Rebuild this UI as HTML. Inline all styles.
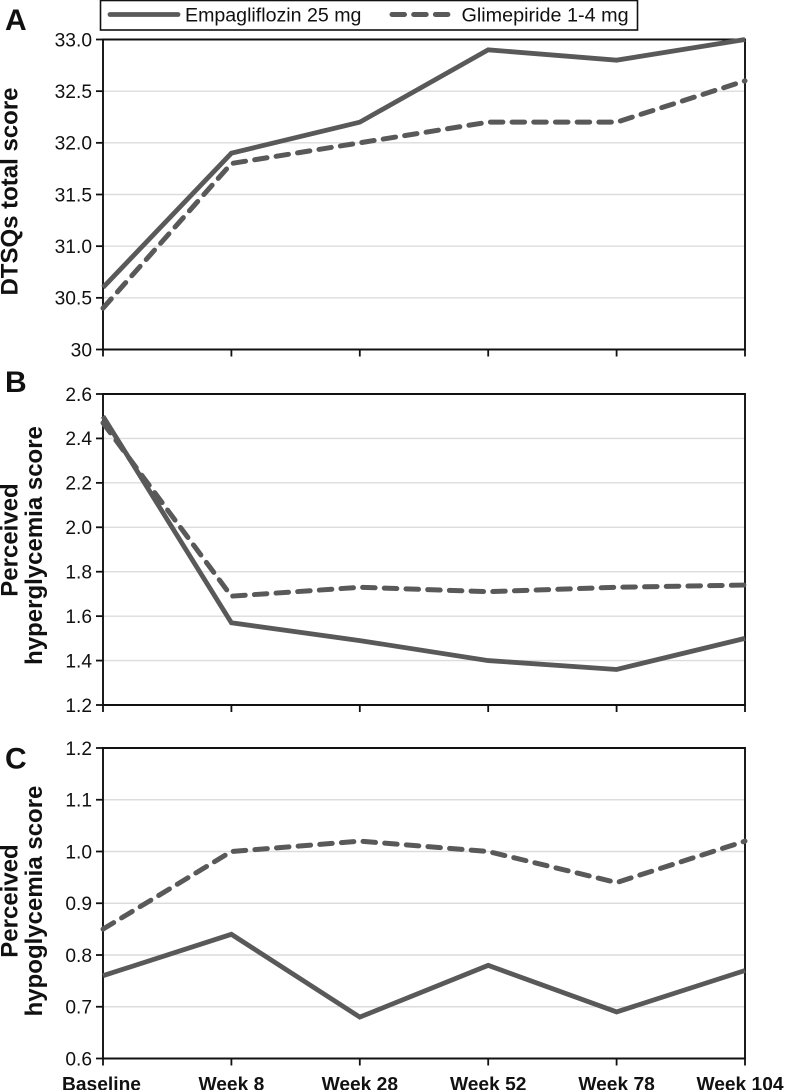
<!DOCTYPE html>
<html>
<head>
<meta charset="utf-8">
<style>
html,body{margin:0;padding:0;background:#fff;}
svg{display:block;font-family:"Liberation Sans",sans-serif;}
</style>
</head>
<body>
<svg id="chart" xmlns="http://www.w3.org/2000/svg" width="786" height="1090" viewBox="0 0 786 1090"></svg>
<script>
const categories = ['Baseline','Week 8','Week 28','Week 52','Week 78','Week 104'];
const seriesNames = ['Empagliflozin 25 mg','Glimepiride 1-4 mg'];

const ticksA = ['30','30.5','31.0','31.5','32.0','32.5','33.0'];
const empagliflozinA = [30.6,31.9,32.2,32.9,32.8,33.0];
const glimepirideA = [30.4,31.8,32.0,32.2,32.2,32.6];

const ticksB = ['1.2','1.4','1.6','1.8','2.0','2.2','2.4','2.6'];
const empagliflozinB = [2.5,1.57,1.49,1.40,1.36,1.50];
const glimepirideB = [2.47,1.69,1.73,1.71,1.73,1.74];

const ticksC = ['0.6','0.7','0.8','0.9','1.0','1.1','1.2'];
const empagliflozinC = [0.76,0.84,0.68,0.78,0.69,0.77];
const glimepirideC = [0.85,1.00,1.02,1.00,0.94,1.02];

const NS = 'http://www.w3.org/2000/svg';
const svg = document.getElementById('chart');
const LEFT = 103, RIGHT = 745;
const DASH = '12.5 9.2';

function mk(tag, attrs, parent, text) {
  const el = document.createElementNS(NS, tag);
  for (const k in attrs) el.setAttribute(k, attrs[k]);
  if (text !== undefined) el.textContent = text;
  (parent || svg).appendChild(el);
  return el;
}
function xPos(i) { return LEFT + (RIGHT - LEFT) * i / (categories.length - 1); }

function panel(key, letter, letterY, top, bottom, ticks, empa, glim, titleLines) {
  const g = mk('g', {});
  
  
  const lo = parseFloat(ticks[0]), hi = parseFloat(ticks[ticks.length - 1]);
  const yPos = v => bottom - (v - lo) / (hi - lo) * (bottom - top);

  ticks.forEach((t, i) => {
    const v = parseFloat(t), y = yPos(v);
    if (i > 0 && i < ticks.length - 1) {
      const grid = mk('line', {x1: LEFT, x2: RIGHT, y1: y, y2: y, stroke: '#dcdcdc', 'stroke-width': 1.4}, g);
      
      
    }
    const tick = mk('line', {x1: LEFT - 7, x2: LEFT, y1: y, y2: y, stroke: '#111', 'stroke-width': 1.8}, g);
    
    
    const label = mk('text', {x: LEFT - 11, y: y + 6.8, 'text-anchor': 'end', 'font-size': 19.2, fill: '#111'}, g, t);
    
    
  });

  const frame = mk('path', {d: `M${LEFT} ${top}H${RIGHT}V${bottom}H${LEFT}Z`, fill: 'none', stroke: '#111', 'stroke-width': 1.9}, g);
  
  

  categories.forEach((c, i) => {
    const tick = mk('line', {x1: xPos(i), x2: xPos(i), y1: bottom, y2: bottom + 7, stroke: '#111', 'stroke-width': 1.8}, g);
    
    
  });

  const pts = arr => arr.map((v, i) => xPos(i) + ',' + yPos(v)).join(' ');
  const l1 = mk('polyline', {points: pts(empa), fill: 'none', stroke: '#595959', 'stroke-width': 4.8, 'stroke-linejoin': 'miter'}, g);
  
  
  const l2 = mk('polyline', {points: pts(glim), fill: 'none', stroke: '#595959', 'stroke-width': 5, 'stroke-dasharray': DASH, 'stroke-linecap': 'round'}, g);
  
  

  const pl = mk('text', {x: 5, y: letterY, 'font-size': 30, 'font-weight': 'bold', fill: '#111'}, g, letter);
  
  

  titleLines.forEach(tl => {
    const t = mk('text', {transform: `translate(${tl.x},${tl.y}) rotate(-90)`, 'text-anchor': 'middle', 'font-size': 24, 'font-weight': 'bold', fill: '#111'}, g, tl.s);
    
    
  });
}

panel('a', 'A', 30, 39.5, 349.5, ticksA, empagliflozinA, glimepirideA, [{s: 'DTSQs total score', x: 17.5, y: 191.5}]);
panel('b', 'B', 392, 394, 705, ticksB, empagliflozinB, glimepirideB, [{s: 'Perceived', x: 17.5, y: 540}, {s: 'hyperglycemia score', x: 42, y: 545.5}]);
panel('c', 'C', 768.5, 748, 1058.5, ticksC, empagliflozinC, glimepirideC, [{s: 'Perceived', x: 17.5, y: 901}, {s: 'hypoglycemia score', x: 42, y: 901}]);

categories.forEach((c, i) => {
  const x = i === 0 ? 101.5 : (i === categories.length - 1 ? 740 : xPos(i));
  const t = mk('text', {x: x, y: 1090.5, 'text-anchor': 'middle', 'font-size': 19.2, 'font-weight': 'bold', fill: '#111'}, svg, c);
  
  
});

const legend = mk('g', {});


const box = mk('rect', {x: 100.5, y: 0.5, width: 537, height: 29.5, fill: '#fff', stroke: '#111', 'stroke-width': 1.6}, legend);


const s1 = mk('line', {x1: 110, x2: 178, y1: 14.5, y2: 14.5, stroke: '#595959', 'stroke-width': 4.8, 'stroke-linecap': 'round'}, legend);


const t1 = mk('text', {x: 185, y: 21.5, 'font-size': 19.6, fill: '#111'}, legend, seriesNames[0]);


const s2 = mk('line', {x1: 392, x2: 450, y1: 14.5, y2: 14.5, stroke: '#595959', 'stroke-width': 5, 'stroke-dasharray': DASH, 'stroke-linecap': 'round'}, legend);


const t2 = mk('text', {x: 461.5, y: 21.5, 'font-size': 19.8, fill: '#111'}, legend, seriesNames[1]);


</script>
</body>
</html>
